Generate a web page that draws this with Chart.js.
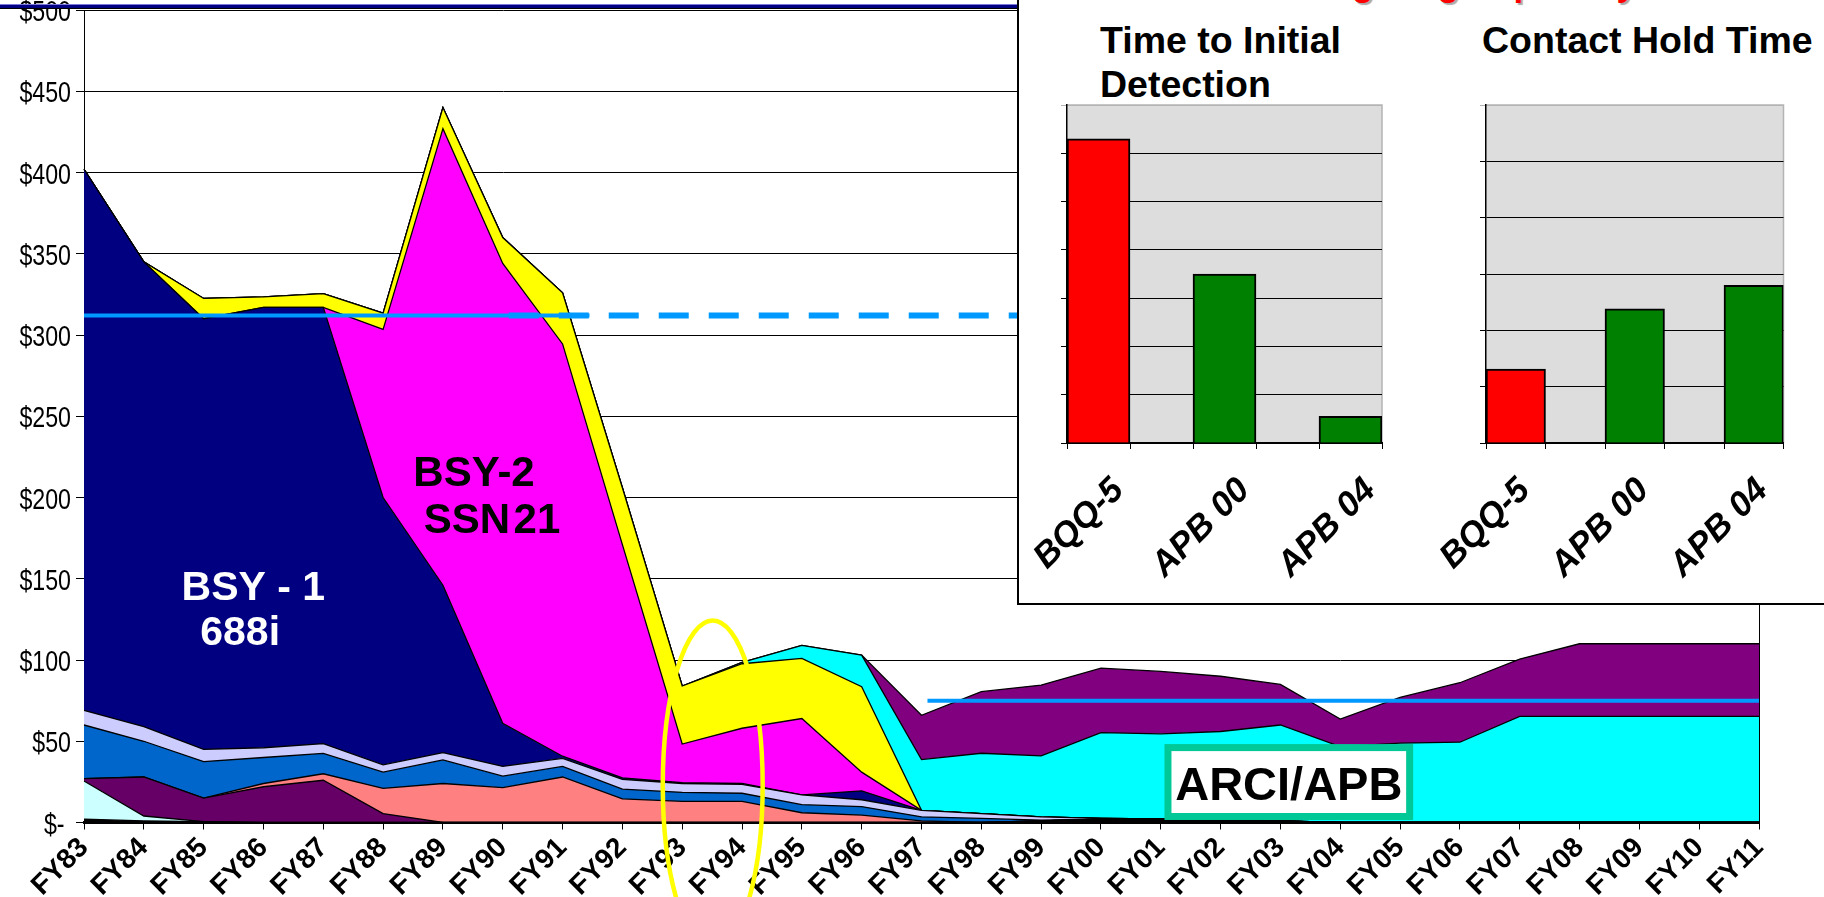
<!DOCTYPE html>
<html>
<head>
<meta charset="utf-8">
<title>Sonar processing cost</title>
<script src="https://cdn.jsdelivr.net/npm/chart.js@4.4.0/dist/chart.umd.min.js"></script>
<style>
    html, body {
        margin: 0;
        padding: 0;
        width: 1824px;
        height: 897px;
        overflow: hidden;
        background: #fff;
        font-family: 'Liberation Sans', Arial, sans-serif;
    }
    #mainWrap { position: absolute; left: 0; top: 0; width: 1824px; height: 897px; }
    .top-rule {
        position: absolute; left: 0; top: 4px; width: 1017px; height: 3px;
        background: #000080; border-top: 1px solid #7777dd; border-bottom: 1px solid #000;
    }
    #inset {
        position: absolute; left: 1017px; top: -4px; width: 830px; height: 609px;
        box-sizing: border-box; border: 2px solid #000; background: #fff;
    }
    .inset-chart { position: absolute; top: 95px; height: 498px; }
    .inset-title {
        position: absolute; top: 18px; font-weight: bold; font-size: 37.5px;
        line-height: 44px; color: #000; white-space: nowrap;
    }
    .red-title {
        position: absolute; top: -38px; right: 188px; font-weight: bold; font-size: 35px;
        line-height: 44px; color: #ff0000; white-space: nowrap;
        text-shadow: 2px 2px 1px #aaaaaa;
    }
</style>
</head>
<body>
<div id="mainWrap"><canvas id="mainChart"></canvas></div>
<div class="top-rule"></div>
<div id="inset"></div>
<div class="red-title">Increased Warfighting Capability</div>
<div class="inset-title" style="left:1100px">Time to Initial<br>Detection</div>
<div class="inset-title" style="left:1482px">Contact Hold Time</div>
<div class="inset-chart" style="left:960px; width:452px"><canvas id="detectChart"></canvas></div>
<div class="inset-chart" style="left:1400px; width:424px"><canvas id="holdChart"></canvas></div>

<script>
// Fiscal years on the main chart
const years = ['FY83', 'FY84', 'FY85', 'FY86', 'FY87', 'FY88', 'FY89', 'FY90', 'FY91', 'FY92',
    'FY93', 'FY94', 'FY95', 'FY96', 'FY97', 'FY98', 'FY99', 'FY00', 'FY01', 'FY02',
    'FY03', 'FY04', 'FY05', 'FY06', 'FY07', 'FY08', 'FY09', 'FY10', 'FY11'];

const yTickLabels = ['$- ', '$50', '$100', '$150', '$200', '$250', '$300', '$350', '$400', '$450', '$500'];

// Stacked layers, bottom to top ($M per year)
const baseBlack = [2, 1, 0.5, 0, 0, 0, 0, 0, 0, 0, 0, 0, 0, 0, 0, 0, 1, 2, 2, 1.5, 0.8, 0, 0, 0, 0, 0, 0, 0, 0];
const paleCyan = [23.5, 3, 0, 0, 0, 0, 0, 0, 0, 0, 0, 0, 0, 0, 0, 0, 0, 0, 0, 0, 0, 0, 0, 0, 0, 0, 0, 0, 0];
const plum = [1.5, 24, 14.5, 22, 26, 5.5, 0, 0, 0, 0, 0, 0, 0, 0, 0, 0, 0, 0, 0, 0, 0, 0, 0, 0, 0, 0, 0, 0, 0];
const salmon = [0, 0, 0, 2, 4, 15.5, 24, 21.5, 28, 14.5, 13, 13, 6, 4.5, 1, 0, 0, 0, 0, 0, 0, 0, 0, 0, 0, 0, 0, 0, 0];
const midBlue = [33, 22, 22.5, 16, 12.5, 10, 14.5, 7, 6.5, 6, 5.6, 5, 5, 5.3, 2.5, 2.5, 0.5, 0, 0, 0, 0, 0, 0, 0, 0, 0, 0, 0, 0];
const lavender = [9, 9, 7.5, 6, 6, 4.5, 4.5, 6, 5, 6, 5.4, 5.5, 6, 4.2, 4, 3, 2, 0.5, 0.2, 0.3, 0.2, 0, 0, 0, 0, 0, 0, 0, 0];
const bsy1 = [333, 286, 265, 271, 268.5, 164.5, 103, 26.5, 1.3, 1, 0.5, 0.5, 0, 5.5, 0, 0, 0, 0, 0, 0, 0, 0, 0, 0, 0, 0, 0, 0, 0];
const bsy2 = [0, 0, 0, 0, 0, 103.5, 281, 283, 253.7, 143.5, 23.8, 34, 47, 11.5, 0, 0, 0, 0, 0, 0, 0, 0, 0, 0, 0, 0, 0, 0, 0];
const yellowBand = [0, 0, 12.5, 6.5, 8.5, 10, 13, 16, 31.5, 35, 35.7, 39.7, 37, 52.6, 0, 0, 0, 0, 0, 0, 0, 0, 0, 0, 0, 0, 0, 0, 0];
const arciApb = [0, 0, 0, 0, 0, 0, 0, 0, 0, 0, 0, 0.8, 8, 19.4, 31.2, 37.1, 37.5, 52.8, 52.4, 54.2, 59, 46.7, 48.8, 49.4, 65.3, 65.3, 65.3, 65.3, 65.3];
const purpleTop = [0, 0, 0, 0, 0, 0, 0, 0, 0, 0, 0, 0, 0, 0, 27.3, 37.9, 43.6, 39.7, 38.4, 34, 25, 17, 28.2, 36.6, 35.3, 44.7, 44.7, 44.7, 44.7];

// Budget reference levels (year index runs 0 = FY83 .. 28 = FY11)
const oldLevel = 312;
const oldLevelSolidEnd = 8.45;
const oldLevelDashStart = 7.1;
const oldLevelDashEnd = 17;
const newLevel = 75;
const newLevelStart = 14.1;
const newLevelEnd = 28;

// Inset bar charts (blank slots keep the bars spaced apart)
const insetLabels = ['BQQ-5', '', 'APB 00', '', 'APB 04'];
const detectionTime = [6.3, null, 3.5, null, 0.55];
const holdTime = [1.31, null, 2.38, null, 2.8];
const insetColors = ['#ff0000', null, '#008000', null, '#008000'];

const FONT = "'Liberation Sans', Arial, sans-serif";
Chart.defaults.font.family = FONT;
Chart.defaults.color = '#000';

const areaSeries = [
    { data: baseBlack, color: '#000000' },
    { data: paleCyan, color: '#ccffff' },
    { data: plum, color: '#660066' },
    { data: salmon, color: '#ff8080' },
    { data: midBlue, color: '#0066cc' },
    { data: lavender, color: '#ccccff' },
    { data: bsy1, color: '#000080' },
    { data: bsy2, color: '#ff00ff' },
    { data: yellowBand, color: '#ffff00' },
    { data: arciApb, color: '#00ffff' },
    { data: purpleTop, color: '#800080' }
];

const areaDatasets = areaSeries.map(function(s, i) {
    return {
        data: s.data,
        backgroundColor: s.color,
        borderColor: '#000',
        borderWidth: 1.3,
        fill: i === 0 ? 'origin' : '-1',
        pointRadius: 0,
        tension: 0
    };
});

function levelLine(y, from, to, width, dash) {
    return {
        xAxisID: 'x2',
        yAxisID: 'y2',
        data: [{ x: from, y: y }, { x: to, y: y }],
        borderColor: '#0099ff',
        borderWidth: width,
        borderDash: dash,
        borderCapStyle: 'butt',
        fill: false,
        pointRadius: 0,
        order: -1
    };
}

const lineDatasets = [
    levelLine(oldLevel, oldLevelDashStart, oldLevelDashEnd, 6, [30, 20]),
    levelLine(oldLevel, 0, oldLevelSolidEnd, 4, []),
    levelLine(newLevel, newLevelStart, newLevelEnd, 4, [])
];

// Narrow dollar labels on the value axis (condensed like the original)
const yLabels = {
    id: 'yLabels',
    afterDraw(chart) {
        const ctx = chart.ctx;
        const ys = chart.scales.y;
        ctx.save();
        ctx.font = '29px ' + FONT;
        ctx.fillStyle = '#000';
        ctx.textAlign = 'right';
        ctx.textBaseline = 'middle';
        ys.ticks.forEach(function(t, i) {
            ctx.save();
            ctx.translate(ys.right - 13, ys.getPixelForValue(t.value) + 3);
            ctx.scale(0.8, 1);
            ctx.fillText(yTickLabels[i], 0, 0);
            ctx.restore();
        });
        ctx.restore();
    }
};

// Labels, the ARCI box and the highlight ellipse, placed in data units
const annotations = {
    id: 'annotations',
    afterDraw(chart) {
        const ctx = chart.ctx;
        const xs = chart.scales.x2;
        const ys = chart.scales.y;
        const px = v => xs.getPixelForValue(v);
        const py = v => ys.getPixelForValue(v);

        ctx.save();
        ctx.textAlign = 'center';
        ctx.textBaseline = 'alphabetic';

        ctx.font = 'bold 41px ' + FONT;
        ctx.fillStyle = '#ffffff';
        ctx.fillText('BSY - 1', px(2.83), py(137));
        ctx.fillText('688i', px(2.61), py(109));

        ctx.font = 'bold 42px ' + FONT;
        ctx.fillStyle = '#000000';
        ctx.fillText('BSY-2', px(6.52), py(207));
        ctx.fillText('SSN\u200A21', px(6.82), py(178));

        // ARCI/APB label box
        const bx1 = px(18.12), bx2 = px(22.16);
        const by1 = py(46.1), by2 = py(3.7);
        ctx.fillStyle = '#ffffff';
        ctx.fillRect(bx1, by1, bx2 - bx1, by2 - by1);
        ctx.strokeStyle = '#00c896';
        ctx.lineWidth = 7;
        ctx.strokeRect(bx1, by1, bx2 - bx1, by2 - by1);
        ctx.font = 'bold 47px ' + FONT;
        ctx.fillStyle = '#000000';
        ctx.fillText('ARCI/APB', px(20.14), py(14.1));

        // Yellow ellipse round FY93-FY94
        const cx = px(10.51), cy = py(22.8);
        const rx = px(10.51 + 0.835) - cx;
        const ry = py(0) - py(101.5);
        ctx.beginPath();
        ctx.ellipse(cx, cy, rx, ry, 0, 0, Math.PI * 2);
        ctx.strokeStyle = '#ffff00';
        ctx.lineWidth = 4.5;
        ctx.stroke();
        ctx.restore();
    }
};

const mainWrap = document.getElementById('mainWrap');
const mainChart = new Chart(document.getElementById('mainChart'), {
    type: 'line',
    data: {
        labels: years,
        datasets: areaDatasets.concat(lineDatasets)
    },
    options: {
        responsive: true,
        maintainAspectRatio: false,
        animation: false,
        devicePixelRatio: 1,
        layout: { padding: { left: 0, right: 65, top: 12, bottom: 0 } },
        plugins: {
            legend: { display: false },
            tooltip: { enabled: false }
        },
        scales: {
            x: {
                type: 'category',
                offset: false,
                grid: { drawOnChartArea: false, color: '#000', tickLength: 7 },
                border: { color: '#000', width: 3 },
                ticks: {
                    color: '#000',
                    font: { size: 28, weight: 'bold' },
                    minRotation: 45,
                    maxRotation: 45,
                    autoSkip: false,
                    padding: 2
                },
                afterFit: function(scale) { scale.height = 75; }
            },
            x2: { type: 'linear', min: 0, max: 28, display: false },
            y: {
                stacked: true,
                min: 0,
                max: 500,
                ticks: { stepSize: 50, display: false },
                grid: { color: '#000', tickLength: 8 },
                border: { color: '#000', width: 1 },
                afterFit: function(scale) { scale.width = 84; }
            },
            y2: {
                position: 'right',
                min: 0,
                max: 500,
                ticks: { display: false },
                grid: { display: false },
                border: { display: true, color: '#000', width: 1 },
                afterFit: function(scale) { scale.width = 0; }
            }
        }
    },
    plugins: [yLabels, annotations]
});

// Shift the canvas so the plot runs from $500 at y=9.5 to $0 at y=822
const shift = 9.5 - mainChart.chartArea.top;
mainWrap.style.top = shift + 'px';
mainWrap.style.height = (897 - shift) + 'px';
mainChart.resize();

// Grey plot background of the inset charts
const plotBackground = {
    id: 'plotBackground',
    beforeDraw(chart) {
        const ctx = chart.ctx;
        const a = chart.chartArea;
        ctx.save();
        ctx.fillStyle = '#dddddd';
        ctx.fillRect(a.left, a.top, a.right - a.left, a.bottom - a.top);
        ctx.strokeStyle = '#b4b4b4';
        ctx.lineWidth = 1.5;
        ctx.beginPath();
        ctx.moveTo(a.left, a.top);
        ctx.lineTo(a.right, a.top);
        ctx.lineTo(a.right, a.bottom);
        ctx.stroke();
        ctx.restore();
    }
};

function makeInset(canvasId, values, maxValue, axisWidth, rightPad, labelShift) {
    return new Chart(document.getElementById(canvasId), {
        type: 'bar',
        data: {
            labels: insetLabels,
            datasets: [{
                data: values,
                backgroundColor: insetColors,
                borderColor: '#000',
                borderWidth: 2,
                barPercentage: 1,
                categoryPercentage: 1
            }]
        },
        options: {
            responsive: true,
            maintainAspectRatio: false,
            animation: false,
            devicePixelRatio: 1,
            layout: { padding: { left: 0, right: rightPad, top: 10, bottom: 0 } },
            plugins: {
                legend: { display: false },
                tooltip: { enabled: false }
            },
            scales: {
                x: {
                    grid: { drawOnChartArea: false, color: '#000', tickLength: 6, offset: true },
                    border: { color: '#000', width: 2 },
                    ticks: {
                        color: '#000',
                        font: { size: 35, weight: 'bold', style: 'italic' },
                        minRotation: 45,
                        maxRotation: 45,
                        autoSkip: false,
                        labelOffset: labelShift,
                        padding: 21
                    },
                    afterFit: function(scale) { scale.height = 150; }
                },
                y: {
                    min: 0,
                    max: maxValue,
                    ticks: { display: false, stepSize: 1 },
                    grid: {
                        color: function(c) { return c.tick && c.tick.value === maxValue ? '#b4b4b4' : '#000'; },
                        tickLength: 6
                    },
                    border: { color: '#000', width: 1.5 },
                    afterFit: function(scale) { scale.width = axisWidth; }
                }
            }
        },
        plugins: [plotBackground]
    });
}

makeInset('detectChart', detectionTime, 7, 107, 30, 20);
makeInset('holdChart', holdTime, 6, 86, 40.5, 9);
</script>
</body>
</html>
